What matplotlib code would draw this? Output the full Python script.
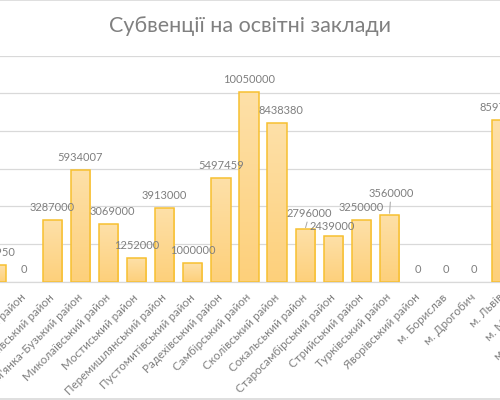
import numpy as np
import matplotlib
matplotlib.use("Agg")
import matplotlib.pyplot as plt
from matplotlib.lines import Line2D

plt.rcParams['font.family'] = ['Lato', 'DejaVu Sans']

title = "Субвенції на освітні заклади"

districts = [
    "Жидачівський район", "Жовківський район", "Золочівський район",
    "Кам'янка-Бузький район", "Миколаївський район", "Мостиський район",
    "Перемишлянський район", "Пустомитівський район", "Радехівський район",
    "Самбірський район", "Сколівський район", "Сокальський район",
    "Старосамбірський район", "Стрийський район", "Турківський район",
    "Яворівський район", "м. Борислав", "м. Дрогобич", "м. Львів",
    "м. Моршин", "м. Новий Розділ",
]
# the last two bars are outside the visible crop, their values can't be read
subsidies = [
    885950, 0, 3287000, 5934007, 3069000, 1252000, 3913000, 1000000,
    5497459, 10050000, 8438380, 2796000, 2439000, 3250000, 3560000,
    0, 0, 0, 8597000, np.nan, np.nan,
]

# label nudges in points (dx, dy) where excel moved labels around
nudge = {4: (3, 0), 10: (3, 0), 11: (3, 2), 12: (-1, -2.5), 14: (1, 6)}
leaders = {11, 14}

text_col = "#7f7f7f"
grid_col = "#d9d9d9"

fig = plt.figure(figsize=(5, 4), dpi=100)
n = len(districts)
# axes is wider than the figure: the reference is a crop of a bigger chart
ax = fig.add_axes([-17.95 / 500, 118.3 / 400, 590.1 / 500, 226.1 / 400])
x = np.arange(n)
bars = ax.bar(x, subsidies, width=0.69, color="#fdd68a", edgecolor="#f7c030",
              linewidth=1.1, zorder=2)

# vertical gradient inside each bar
grad = np.linspace(0, 1, 64).reshape(-1, 1)
cmap = matplotlib.colors.LinearSegmentedColormap.from_list("g", ["#fdd07b", "#fee0a8"])
for b in bars:
    h = b.get_height()
    if not np.isfinite(h) or h <= 0:
        b.set_linewidth(0)
        continue
    im = ax.imshow(grad, cmap=cmap, aspect="auto", origin="lower", zorder=2.5,
                   extent=[b.get_x(), b.get_x() + b.get_width(), 0, h])
    im.set_clip_path(b)
    b.set_facecolor("none")
    b.set_zorder(3)

for i, v in enumerate(subsidies):
    if not np.isfinite(v):
        continue
    dx, dy = nudge.get(i, (0, 0))
    props = None
    if i in leaders:
        props = dict(arrowstyle="-", color="#a6a6a6", lw=0.7, shrinkA=0, shrinkB=1)
    ax.annotate(f"{v:.0f}", (i, v), xytext=(dx, 9 + dy), textcoords="offset points",
                ha="center", va="center", fontsize=8, color=text_col,
                arrowprops=props)

ax.set_xlim(-0.5, n - 0.5)
ax.set_ylim(0, 12000000)
ax.set_yticks(np.arange(0, 12000001, 2000000))
ax.yaxis.grid(True, color=grid_col, lw=0.9, zorder=0)
ax.set_yticklabels([])
ax.tick_params(axis="y", length=0)
ax.set_xticks(x)
ax.set_xticklabels(districts, rotation=45, ha="right", va="center",
                   rotation_mode="anchor", fontsize=8.4, color=text_col)
ax.tick_params(axis="x", length=0, pad=10)
for s in ["top", "left", "right"]:
    ax.spines[s].set_visible(False)
ax.spines["bottom"].set_color(grid_col)
ax.spines["bottom"].set_linewidth(0.9)
ax.set_facecolor("none")

fig.text(0.5, 1 - 26.5 / 400, title, ha="center", va="center", fontsize=15.5,
         color="#808080")
fig.add_artist(Line2D([0, 1], [0.999, 0.999], color=grid_col, lw=1.2))
fig.add_artist(Line2D([0, 1], [1 - 398.5 / 400, 1 - 398.5 / 400], color=grid_col, lw=1.2))

fig.savefig("out.png", dpi=100)
